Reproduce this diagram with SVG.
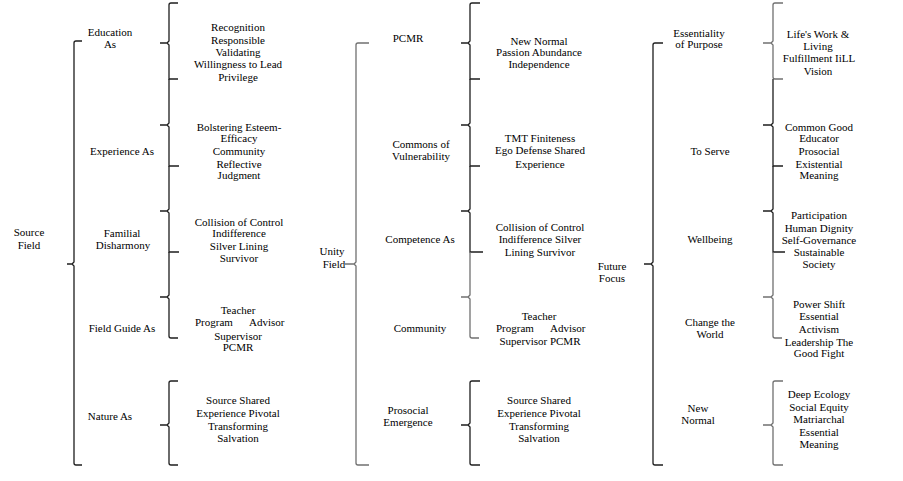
<svg xmlns="http://www.w3.org/2000/svg" width="903" height="481" viewBox="0 0 903 481">
<style>
text{font-family:'Liberation Serif','DejaVu Serif',serif;font-size:11px;fill:#000;text-anchor:middle}
.l{text-anchor:start}
path{fill:none;stroke-width:1.3}
.dk{stroke:#1e1e1e}
.gr{stroke:#707070}
</style>
<rect width="903" height="481" fill="#fff"/>
<g id="connectors">
<path class="dk" d="M82 41 H76 Q74 41 74 43 V262 L72 264 H67 M72 264 L74 266 V463 Q74 465 76 465 H82"/>
<path class="dk" d="M178 3 H171 Q169 3 169 5 V41 L167 43 H160 M167 43 L169 45 V79 H178"/>
<path class="dk" d="M169 79 V123 L167 125 H160 M167 125 L169 127 V166 H179"/>
<path class="dk" d="M169 166 V209 L167 211 H160 M167 211 L169 213 V252 H179"/>
<path class="dk" d="M169 252 V295 L167 297 H160 M167 297 L169 299 V336 Q169 338 171 338 H178"/>
<path class="dk" d="M178 381 H171 Q169 381 169 383 V423 L167 425 H160 M167 425 L169 427 V463 Q169 465 171 465 H178"/>
<path class="gr" d="M369 43 H358 Q356 43 356 45 V262 L354 264 H345 M354 264 L356 266 V463 Q356 465 358 465 H369"/>
<path class="dk" d="M480 3 H472 Q470 3 470 5 V41 L468 43 H461 M468 43 L470 45 V79 H480"/>
<path class="dk" d="M470 79 V123 L468 125 H461 M468 125 L470 127 V166 H480"/>
<path class="dk" d="M470 166 V209 L468 211 H461 M468 211 L470 213 V252 H483"/>
<path class="gr" d="M470 252 V295 L468 297 H461 M468 297 L470 299 V336 Q470 338 472 338 H479"/>
<path class="dk" d="M480 381 H472 Q470 381 470 383 V423 L468 425 H461 M468 425 L470 427 V463 Q470 465 472 465 H480"/>
<path class="dk" d="M663 43 H655 Q653 43 653 45 V262 L651 264 H644 M651 264 L653 266 V463 Q653 465 655 465 H663"/>
<path class="gr" d="M783 3 H775 Q773 3 773 5 V41 L771 43 H763 M771 43 L773 45 V77 Q773 79 775 79 H783"/>
<path class="dk" d="M773 79 V123 L771 125 H763 M771 125 L773 127 V166 H783"/>
<path class="dk" d="M773 166 V209 L771 211 H763 M771 211 L773 213 V252 H785"/>
<path class="gr" d="M773 252 V295 L771 297 H763 M771 297 L773 299 V336 Q773 338 775 338 H782"/>
<path class="gr" d="M783 381 H775 Q773 381 773 383 V423 L771 425 H763 M771 425 L773 427 V463 Q773 465 775 465 H783"/>
</g>

<g id="source-field"><text x="29" y="236">Source</text><text x="29" y="249">Field</text></g>
<g id="education-as"><text x="110" y="36">Education</text><text x="110" y="48">As</text></g>
<g id="experience-as"><text x="122" y="155">Experience As</text></g>
<g id="familial-disharmony"><text x="122" y="237">Familial</text><text x="123" y="249">Disharmony</text></g>
<g id="field-guide-as"><text x="122" y="332">Field Guide As</text></g>
<g id="nature-as"><text x="110" y="420">Nature As</text></g>

<g id="c1-edu-items"><text x="238" y="31">Recognition</text><text x="238" y="44">Responsible</text><text x="238" y="56">Validating</text><text x="238" y="68">Willingness to Lead</text><text x="238" y="81">Privilege</text></g>
<g id="c1-exp-items"><text x="239" y="131">Bolstering Esteem-</text><text x="239" y="142">Efficacy</text><text x="239" y="155">Community</text><text x="239" y="168">Reflective</text><text x="239" y="179">Judgment</text></g>
<g id="c1-fam-items"><text x="239" y="226">Collision of Control</text><text x="239" y="237">Indifference</text><text x="239" y="250">Silver Lining</text><text x="239" y="262">Survivor</text></g>
<g id="c1-guide-items"><text x="238" y="314">Teacher</text><text class="l" y="326"><tspan x="195">Program</tspan><tspan x="249">Advisor</tspan></text><text x="238" y="340">Supervisor</text><text x="238" y="351">PCMR</text></g>
<g id="c1-nature-items"><text x="238" y="404">Source Shared</text><text x="238" y="417">Experience Pivotal</text><text x="238" y="430">Transforming</text><text x="238" y="442">Salvation</text></g>

<g id="unity-field"><text x="332" y="255">Unity</text><text x="334" y="268">Field</text></g>
<g id="pcmr"><text x="408" y="42">PCMR</text></g>
<g id="commons-of-vulnerability"><text x="421" y="148">Commons of</text><text x="421" y="160">Vulnerability</text></g>
<g id="competence-as"><text x="420" y="243">Competence As</text></g>
<g id="community"><text x="420" y="332">Community</text></g>
<g id="prosocial-emergence"><text x="408" y="414">Prosocial</text><text x="408" y="426">Emergence</text></g>

<g id="c2-pcmr-items"><text x="539" y="45">New Normal</text><text x="539" y="56">Passion Abundance</text><text x="539" y="68">Independence</text></g>
<g id="c2-commons-items"><text x="540" y="142">TMT Finiteness</text><text x="540" y="154">Ego Defense Shared</text><text x="540" y="168">Experience</text></g>
<g id="c2-comp-items"><text x="540" y="231">Collision of Control</text><text x="540" y="243">Indifference Silver</text><text x="540" y="256">Lining Survivor</text></g>
<g id="c2-community-items"><text x="539" y="320">Teacher</text><text class="l" y="332"><tspan x="496">Program</tspan><tspan x="550">Advisor</tspan></text><text x="540" y="345">Supervisor PCMR</text></g>
<g id="c2-pro-items"><text x="539" y="404">Source Shared</text><text x="539" y="417">Experience Pivotal</text><text x="539" y="430">Transforming</text><text x="539" y="442">Salvation</text></g>

<g id="future-focus"><text x="612" y="270">Future</text><text x="612" y="282">Focus</text></g>
<g id="essentiality-of-purpose"><text x="699" y="37">Essentiality</text><text x="699" y="48">of Purpose</text></g>
<g id="to-serve"><text x="710" y="155">To Serve</text></g>
<g id="wellbeing"><text x="710" y="243">Wellbeing</text></g>
<g id="change-the-world"><text x="710" y="326">Change the</text><text x="710" y="338">World</text></g>
<g id="new-normal"><text x="698" y="412">New</text><text x="698" y="424">Normal</text></g>

<g id="c3-ess-items"><text x="818" y="38">Life's Work &amp;</text><text x="818" y="50">Living</text><text x="819" y="62">Fulfillment IiLL</text><text x="818" y="75">Vision</text></g>
<g id="c3-serve-items"><text x="819" y="131">Common Good</text><text x="819" y="142">Educator</text><text x="819" y="155">Prosocial</text><text x="819" y="168">Existential</text><text x="819" y="179">Meaning</text></g>
<g id="c3-well-items"><text x="819" y="219">Participation</text><text x="819" y="232">Human Dignity</text><text x="819" y="244">Self-Governance</text><text x="819" y="256">Sustainable</text><text x="819" y="268">Society</text></g>
<g id="c3-change-items"><text x="819" y="308">Power Shift</text><text x="819" y="320">Essential</text><text x="819" y="333">Activism</text><text x="819" y="346">Leadership The</text><text x="819" y="357">Good Fight</text></g>
<g id="c3-new-items"><text x="819" y="398">Deep Ecology</text><text x="819" y="411">Social Equity</text><text x="819" y="423">Matriarchal</text><text x="819" y="436">Essential</text><text x="819" y="448">Meaning</text></g>
</svg>
